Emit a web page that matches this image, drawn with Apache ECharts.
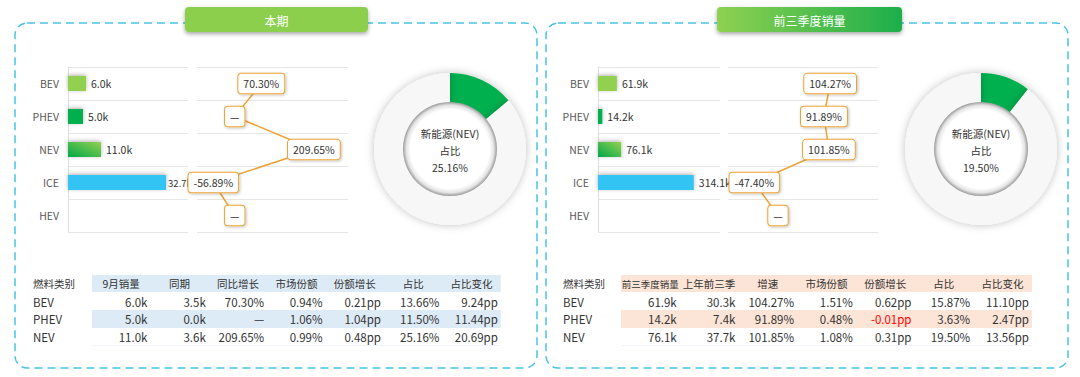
<!DOCTYPE html>
<html><head><meta charset="utf-8">
<script src="https://cdn.jsdelivr.net/npm/echarts@6/dist/echarts.min.js"></script>
<style>html,body{margin:0;padding:0;background:#fff}#c{width:1080px;height:377px}</style>
</head><body><div id="c"></div>
<script>
// ---------- data ----------
const categories = ['BEV', 'PHEV', 'NEV', 'ICE', 'HEV'];
const salesCurrent = [6.0, 5.0, 11.0, 32.7, 0];        // k
const salesYtd = [61.9, 14.2, 76.1, 314.1, 0];          // k
const growthCurrent = [70.30, null, 209.65, -56.89, null]; // %
const growthYtd = [104.27, 91.89, 101.85, -47.40, null];   // %
const nevShareCurrent = '25.16%';
const nevShareYtd = '19.50%';
const donutArcCurrent = 14.0;   // green arc share
const donutArcYtd = 10.6;
const donutTitle = ['新能源(NEV)', '占比'];
const panelTitles = ['本期', '前三季度销量'];
const tableHeadCurrent = ['燃料类别', '9月销量', '同期', '同比增长', '市场份额', '份额增长', '占比', '占比变化'];
const tableHeadYtd = ['燃料类别', '前三季度销量', '上年前三季', '增速', '市场份额', '份额增长', '占比', '占比变化'];
const tableRowsCurrent = [
  ['BEV', '6.0k', '3.5k', '70.30%', '0.94%', '0.21pp', '13.66%', '9.24pp'],
  ['PHEV', '5.0k', '0.0k', '—', '1.06%', '1.04pp', '11.50%', '11.44pp'],
  ['NEV', '11.0k', '3.6k', '209.65%', '0.99%', '0.48pp', '25.16%', '20.69pp']
];
const tableRowsYtd = [
  ['BEV', '61.9k', '30.3k', '104.27%', '1.51%', '0.62pp', '15.87%', '11.10pp'],
  ['PHEV', '14.2k', '7.4k', '91.89%', '0.48%', '-0.01pp', '3.63%', '2.47pp'],
  ['NEV', '76.1k', '37.7k', '101.85%', '1.08%', '0.31pp', '19.50%', '13.56pp']
];

// ---------- styles ----------
const FONT = '"Noto Sans CJK SC", "Noto Sans", sans-serif';
const barColors = [
  '#92d050',
  '#00b050',
  new echarts.graphic.LinearGradient(0, 1, 1, 0, [{offset: 0, color: '#00a84a'}, {offset: 1, color: '#92d050'}]),
  '#33c4f3',
  '#cccccc'
];
const ORANGE = '#eda234';

const chart = echarts.init(document.getElementById('c'), null, {renderer: 'svg', width: 1080, height: 377});

function panelGraphics(p) {
  const els = [];
  els.push({type: 'rect', z: 0, shape: {x: p.x, y: 23, width: 522, height: 345, r: 12},
    style: {fill: 'none', stroke: '#48c2e6', lineWidth: 1.5, lineDash: [8, 5]}});
  els.push({type: 'rect', z: 2, shape: {x: p.tabX, y: 7, width: p.tabW, height: 25, r: 4},
    style: {fill: p.tabFill, shadowBlur: 4, shadowOffsetY: 2, shadowColor: 'rgba(0,0,0,0.35)'}});
  els.push({type: 'text', z: 3, x: p.tabX + p.tabW / 2, y: 20,
    style: {text: p.title, fill: '#fff', font: '12px ' + FONT, align: 'center', verticalAlign: 'middle'}});
  // table
  const x0 = p.tx0, cw = p.cw, tw = cw * 7;
  els.push({type: 'rect', z: 1, shape: {x: x0, y: 275, width: tw, height: 17}, style: {fill: p.tbg}});
  els.push({type: 'rect', z: 1, shape: {x: x0, y: 310, width: tw, height: 18}, style: {fill: p.tbg}});
  els.push({type: 'rect', z: 1, shape: {x: x0, y: 345, width: tw, height: 1}, style: {fill: '#f0f4f8'}});
  const hy = 283.5, rowY = [301.5, 319, 336.5];
  p.head.forEach((h, j) => {
    if (j === 0) {
      els.push({type: 'text', z: 3, x: p.lx, y: hy, style: {text: h, fill: '#333', font: '10.5px ' + FONT, align: 'left', verticalAlign: 'middle'}});
    } else {
      els.push({type: 'text', z: 3, x: x0 + cw * (j - 1) + cw / 2, y: hy, style: {text: h, fill: '#333', font: (h.length > 5 ? '9.5px ' : '10.5px ') + FONT, align: 'center', verticalAlign: 'middle'}});
    }
  });
  p.rows.forEach((r, i) => {
    r.forEach((v, j) => {
      if (j === 0) {
        els.push({type: 'text', z: 3, x: p.lx, y: rowY[i], style: {text: v, fill: '#333', font: '11.5px ' + FONT, align: 'left', verticalAlign: 'middle'}});
      } else {
        els.push({type: 'text', z: 3, x: x0 + cw * j - 3, y: rowY[i], style: {text: v, fill: v.charAt(0) === '-' ? '#ff0000' : '#333', font: '11.5px ' + FONT, align: 'right', verticalAlign: 'middle'}});
      }
    });
  });
  // donut hole with inner shadow + text
  els.push({type: 'circle', z: 5, shape: {cx: p.cx, cy: 149, r: 47},
    style: {fill: {type: 'radial', x: 0.5, y: 0.5, r: 0.5, colorStops: [
      {offset: 0, color: '#ffffff'}, {offset: 0.84, color: '#ffffff'}, {offset: 0.93, color: '#e4e4e4'}, {offset: 1, color: '#9a9a9a'}]}}});
  [donutTitle[0], donutTitle[1], p.share].forEach((t, k) => {
    els.push({type: 'text', z: 6, x: p.cx, y: 133 + k * 17,
      style: {text: t, fill: '#333', font: '10.5px ' + FONT, align: 'center', verticalAlign: 'middle'}});
  });
  return els;
}

const graphics = [].concat(
  panelGraphics({x: 15, tabX: 185, tabW: 183, tabFill: '#8ccf4e', title: panelTitles[0],
    tx0: 92, cw: 58.4, lx: 33, tbg: '#ddebf7', head: tableHeadCurrent, rows: tableRowsCurrent, cx: 450, share: nevShareCurrent}),
  panelGraphics({x: 546, tabX: 717, tabW: 185,
    tabFill: new echarts.graphic.LinearGradient(0, 0, 1, 0, [{offset: 0, color: '#8fd150'}, {offset: 1, color: '#1caf4b'}]),
    title: panelTitles[1], tx0: 621, cw: 58.7, lx: 563, tbg: '#fce4d6', head: tableHeadYtd, rows: tableRowsYtd, cx: 981, share: nevShareYtd})
);

function catAxis(gi, showLabel) {
  return {
    gridIndex: gi, type: 'category', data: categories, inverse: true,
    axisLine: {show: showLabel, lineStyle: {color: '#dddddd'}},
    axisTick: {show: false},
    axisLabel: {show: showLabel, color: '#595959', fontSize: 10.5, margin: 9, fontFamily: FONT},
    splitLine: {show: true, lineStyle: {color: '#e6e6e6'}}
  };
}

function barSeries(idx, data, tightIdx) {
  return {
    type: 'bar', xAxisIndex: idx, yAxisIndex: idx, barWidth: 15, silent: true,
    data: data.map((v, i) => {
      const d = {value: v, itemStyle: {color: barColors[i]}};
      if (i === tightIdx) d.label = {fontSize: 9.5, distance: 2};
      return d;
    }),
    itemStyle: {shadowBlur: 4, shadowOffsetY: -1, shadowColor: 'rgba(0,0,0,0.3)'},
    label: {show: true, position: 'right', distance: 5, color: '#333', fontSize: 10.5, fontFamily: FONT,
      formatter: p => p.value ? p.value.toFixed(1) + 'k' : ''}
  };
}

function lineSeries(idx, data) {
  return {
    type: 'line', xAxisIndex: idx, yAxisIndex: idx, silent: true, z: 3,
    symbol: 'circle', symbolSize: 1, itemStyle: {color: ORANGE},
    lineStyle: {color: ORANGE, width: 1.5},
    data: data.map(v => (v == null ? 0 : v)),
    label: {show: true, position: 'inside', color: '#333', fontSize: 10.5, fontFamily: FONT,
      backgroundColor: '#fff', borderColor: ORANGE, borderWidth: 1, borderRadius: 3, padding: [5, 5, 4, 5],
      shadowBlur: 3, shadowOffsetX: 1, shadowOffsetY: 1, shadowColor: 'rgba(0,0,0,0.25)',
      formatter: p => data[p.dataIndex] == null ? '—' : data[p.dataIndex].toFixed(2) + '%'}
  };
}

function donut(cx, arc) {
  return {
    type: 'pie', center: [cx, 149], radius: [46, 76], startAngle: 90, silent: true,
    label: {show: false}, labelLine: {show: false},
    itemStyle: {shadowBlur: 9, shadowColor: 'rgba(0,0,0,0.25)'},
    data: [{value: arc, itemStyle: {color: '#00b050'}}, {value: 100 - arc, itemStyle: {color: '#f7f7f7'}}]
  };
}

chart.setOption({
  animation: false,
  textStyle: {fontFamily: FONT},
  grid: [
    {left: 68, top: 67, width: 120, height: 165},
    {left: 197, top: 67, width: 151, height: 165},
    {left: 598, top: 67, width: 122, height: 165},
    {left: 728, top: 67, width: 150, height: 165}
  ],
  xAxis: [
    {gridIndex: 0, type: 'value', min: 0, max: 40, show: false},
    {gridIndex: 1, type: 'value', min: -100, max: 300, show: false},
    {gridIndex: 2, type: 'value', min: 0, max: 400, show: false},
    {gridIndex: 3, type: 'value', min: -100, max: 200, show: false}
  ],
  yAxis: [catAxis(0, true), catAxis(1, false), catAxis(2, true), catAxis(3, false)],
  series: [
    barSeries(0, salesCurrent, 3),
    lineSeries(1, growthCurrent),
    barSeries(2, salesYtd, -1),
    lineSeries(3, growthYtd),
    donut(450, donutArcCurrent),
    donut(981, donutArcYtd)
  ],
  graphic: graphics
});
</script>
</body></html>
